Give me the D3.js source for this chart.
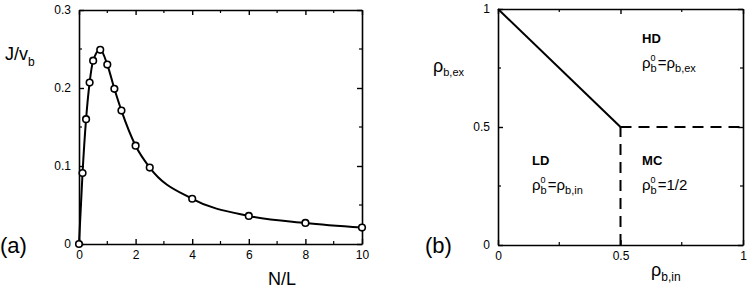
<!DOCTYPE html>
<html>
<head>
<meta charset="utf-8">
<script src="https://cdn.jsdelivr.net/npm/d3@7"></script>
<style>
  body { margin: 0; background: #fff; }
  svg { display: block; }
  text { font-family: "Liberation Sans", Arial, Helvetica, sans-serif; fill: #000; }
</style>
</head>
<body>
<div id="chart"></div>
<script>
// panel (a): current vs density
var nl = [0, 0.125, 0.25, 0.375, 0.5, 0.75, 1.0, 1.25, 1.5, 2.0, 2.5, 4, 6, 8, 10];
var jv = [0, 0.091, 0.160, 0.207, 0.235, 0.249, 0.230, 0.199, 0.171, 0.126, 0.098, 0.058, 0.036, 0.027, 0.021];
var xTicksA = [0, 2, 4, 6, 8, 10];
var xMinorA = [1, 3, 5, 7, 9];
var yTicksA = [0, 0.1, 0.2, 0.3];
var yMinorA = [0.05, 0.15, 0.25];

// panel (b): phase diagram
var solidLine = [[0, 1], [0.5, 0.5]];
var dashH = [[0.5, 0.5], [1, 0.5]];
var dashV = [[0.5, 0], [0.5, 0.5]];
var ticksB = [0, 0.5, 1];
var minorB = [0.25, 0.75];
var phases = [
    { name: "HD", x: 0.588, y: 0.856, rhs: [["ρ", 0], ["b,ex", 1]] },
    { name: "LD", x: 0.139, y: 0.339, rhs: [["ρ", 0], ["b,in", 1]] },
    { name: "MC", x: 0.588, y: 0.339, rhs: [["1/2", 0]] }
];

var W = 747, H = 293;
var svg = d3.select("#chart").append("svg")
    .attr("width", W)
    .attr("height", H);

var xA = d3.scaleLinear().domain([0, 10]).range([79, 362]);
var yA = d3.scaleLinear().domain([0, 0.3]).range([244, 10]);
var xB = d3.scaleLinear().domain([0, 1]).range([498, 743]);
var yB = d3.scaleLinear().domain([0, 1]).range([245, 9]);

function fmt(d) { return d === 0 ? "0" : d3.format("~g")(d); }

// draws a box of four axes with inward ticks
function frame(x, y, xt, xm, yt, ym) {
    var g = svg.append("g");
    var x0 = x.range()[0], x1 = x.range()[1];
    var y0 = y.range()[0], y1 = y.range()[1];

    function style(sel, labels) {
        sel.select(".domain").attr("stroke", "#000").attr("stroke-width", 1.6);
        sel.selectAll(".tick line").attr("stroke", "#000").attr("stroke-width", 1.4);
        sel.selectAll("text").style("font-size", "12px").attr("fill", "#000");
        if (!labels) sel.selectAll("text").remove();
    }

    var bottom = g.append("g").attr("transform", `translate(0,${y0})`)
        .call(d3.axisBottom(x).tickValues(xt).tickFormat(fmt).tickSizeInner(-5).tickSizeOuter(0).tickPadding(6));
    style(bottom, true);
    var top = g.append("g").attr("transform", `translate(0,${y1})`)
        .call(d3.axisTop(x).tickValues(xt).tickSizeInner(-5).tickSizeOuter(0));
    style(top, false);
    var left = g.append("g").attr("transform", `translate(${x0},0)`)
        .call(d3.axisLeft(y).tickValues(yt).tickFormat(fmt).tickSizeInner(-5).tickSizeOuter(0).tickPadding(8));
    style(left, true);
    var right = g.append("g").attr("transform", `translate(${x1},0)`)
        .call(d3.axisRight(y).tickValues(yt).tickSizeInner(-5).tickSizeOuter(0));
    style(right, false);

    // minor ticks
    xm.forEach(function(v) {
        g.append("line").attr("x1", x(v)).attr("x2", x(v)).attr("y1", y0).attr("y2", y0 - 3)
            .attr("stroke", "#000").attr("stroke-width", 1.2);
        g.append("line").attr("x1", x(v)).attr("x2", x(v)).attr("y1", y1).attr("y2", y1 + 3)
            .attr("stroke", "#000").attr("stroke-width", 1.2);
    });
    ym.forEach(function(v) {
        g.append("line").attr("x1", x0).attr("x2", x0 + 3).attr("y1", y(v)).attr("y2", y(v))
            .attr("stroke", "#000").attr("stroke-width", 1.2);
        g.append("line").attr("x1", x1).attr("x2", x1 - 3).attr("y1", y(v)).attr("y2", y(v))
            .attr("stroke", "#000").attr("stroke-width", 1.2);
    });
    return g;
}

// text built from pieces: [string, size, baseline offset, dx, weight]
function rich(x, y, parts) {
    var t = svg.append("text").attr("x", x).attr("y", y);
    var cur = 0;
    parts.forEach(function(p) {
        t.append("tspan")
            .attr("dy", p[2] - cur)
            .attr("dx", p[3] || 0)
            .style("font-size", p[1] + "px")
            .style("font-weight", p[4] || "normal")
            .text(p[0]);
        cur = p[2];
    });
    return t;
}

// ---- panel (a)
frame(xA, yA, xTicksA, xMinorA, yTicksA, yMinorA);

var pts = nl.map(function(d, i) { return [d, jv[i]]; });
var line = d3.line()
    .x(function(d) { return xA(d[0]); })
    .y(function(d) { return yA(d[1]); })
    .curve(d3.curveMonotoneX);

svg.append("path")
    .datum(pts)
    .attr("d", line)
    .attr("fill", "none")
    .attr("stroke", "#000")
    .attr("stroke-width", 2);

svg.selectAll(".pt")
    .data(pts)
    .join("circle")
    .attr("class", "pt")
    .attr("cx", function(d) { return xA(d[0]); })
    .attr("cy", function(d) { return yA(d[1]); })
    .attr("r", 3.3)
    .attr("fill", "#fff")
    .attr("stroke", "#000")
    .attr("stroke-width", 1.6);

rich(5, 60, [["J/v", 18, 0], ["b", 12, 6]]);
svg.append("text").attr("x", 282).attr("y", 285).attr("text-anchor", "middle")
    .style("font-size", "18px").text("N/L");
svg.append("text").attr("x", 0).attr("y", 253).style("font-size", "22px").text("(a)");

// ---- panel (b)
frame(xB, yB, ticksB, minorB, ticksB, minorB);

var lineB = d3.line()
    .x(function(d) { return xB(d[0]); })
    .y(function(d) { return yB(d[1]); });

svg.append("path").attr("d", lineB(solidLine))
    .attr("fill", "none").attr("stroke", "#000").attr("stroke-width", 2);
[dashH, dashV].forEach(function(seg) {
    svg.append("path").attr("d", lineB(seg))
        .attr("fill", "none").attr("stroke", "#000").attr("stroke-width", 2)
        .attr("stroke-dasharray", "11,7");
});

phases.forEach(function(p) {
    var px = xB(p.x), py = yB(p.y);
    svg.append("text").attr("x", px).attr("y", py)
        .style("font-size", "13px").style("font-weight", "bold").text(p.name);
    var parts = [["ρ", 15, 0], ["0", 9, -7], ["b", 11, 4, -5], ["=", 15, 0, 1]];
    p.rhs.forEach(function(r) {
        if (r[1]) parts.push([r[0], 11, 4]);
        else parts.push([r[0], 15, 0]);
    });
    rich(px, py + 25, parts);
});

rich(433, 72, [["ρ", 18, 0], ["b,ex", 11, 4]]);
rich(651, 276, [["ρ", 18, 0], ["b,in", 12, 5]]);
svg.append("text").attr("x", 425).attr("y", 253).style("font-size", "22px").text("(b)");
</script>
</body>
</html>
